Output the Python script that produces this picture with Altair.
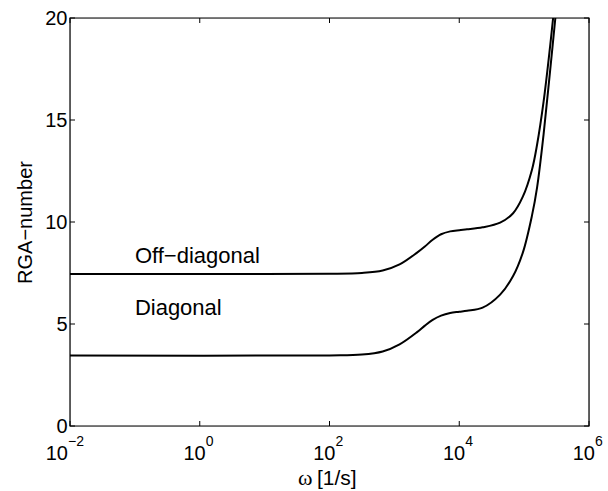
import altair as alt
import pandas as pd

# ---- data ----
off_log_w = [-2, 1, 2, 2.5, 2.82, 3.08, 3.35, 3.47, 3.59, 3.72, 3.86, 4.0, 4.12, 4.36, 4.63, 4.83, 4.98, 5.12, 5.2, 5.3, 5.4, 5.46]
off_rga = [7.45, 7.45, 7.46, 7.5, 7.62, 7.92, 8.5, 8.8, 9.13, 9.4, 9.54, 9.6, 9.64, 9.74, 9.97, 10.43, 11.24, 12.55, 13.8, 15.9, 18.6, 20.4]

diag_log_w = [-2, 2, 2.5, 2.82, 3.08, 3.35, 3.47, 3.59, 3.72, 3.86, 4.0, 4.12, 4.36, 4.63, 4.83, 4.98, 5.12, 5.2, 5.3, 5.4, 5.5]
diag_rga = [3.45, 3.46, 3.5, 3.65, 4.0, 4.6, 4.92, 5.2, 5.41, 5.54, 5.6, 5.65, 5.8, 6.44, 7.35, 8.5, 10.3, 11.7, 14.3, 17.4, 20.6]

x_tick_exponents = [-2, 0, 2, 4, 6]
y_ticks = [0, 5, 10, 15, 20]

label_texts = ["Off\u2212diagonal", "Diagonal"]
label_log_w = [-1.0, -1.0]
label_rga = [8.0, 5.45]

# ---- layout ----
W, H = 519, 408
FONT = "Liberation Sans"

curves = pd.DataFrame({
    "w": [10 ** e for e in off_log_w] + [10 ** e for e in diag_log_w],
    "rga": off_rga + diag_rga,
    "series": ["Off-diagonal"] * len(off_rga) + ["Diagonal"] * len(diag_rga),
})
xt = pd.DataFrame({
    "w": [10 ** e for e in x_tick_exponents],
    "e": x_tick_exponents,
    "exp": [str(e).replace("-", "\u2212") for e in x_tick_exponents],
})
yt = pd.DataFrame({"rga": y_ticks})
lab = pd.DataFrame({"w": [10 ** e for e in label_log_w], "rga": label_rga, "text": label_texts})

xscale = alt.Scale(type="log", domain=[1e-2, 1e6], nice=False)
yscale = alt.Scale(domain=[0, 20], nice=False, zero=False)
yaxis = alt.Axis(
    values=y_ticks, grid=False, domain=False, ticks=False,
    labelFont=FONT, labelFontSize=20, labelColor="black", labelPadding=3,
    title="RGA\u2212number", titleFont=FONT, titleFontSize=20,
    titleFontWeight="normal", titleColor="black", titlePadding=9,
)

def Y(field="rga:Q"):
    return alt.Y(field, scale=yscale, axis=yaxis)

def X(field="w:Q"):
    return alt.X(field, scale=xscale, axis=None)

lines = alt.Chart(curves).mark_line(
    color="black", strokeWidth=2, clip=True, interpolate="catmull-rom"
).encode(x=X(), y=Y(), detail="series:N")

tick_style = dict(color="black", strokeWidth=1)
ytick_left = alt.Chart(yt).mark_rule(**tick_style).encode(
    y=Y(), x=alt.value(0), x2=alt.value(5))
ytick_right = alt.Chart(yt).mark_rule(**tick_style).encode(
    y=Y(), x=alt.value(W - 5), x2=alt.value(W))
xtick_bottom = alt.Chart(xt).mark_rule(**tick_style).encode(
    x=X(), y=alt.value(H), y2=alt.value(H - 5))
xtick_top = alt.Chart(xt).mark_rule(**tick_style).encode(
    x=X(), y=alt.value(0), y2=alt.value(5))

frame = alt.Chart(yt).transform_filter("datum.rga == 0").mark_rect(
    fill=None, stroke="black", strokeWidth=1.2
).encode(x=alt.value(0), x2=alt.value(W), y=alt.value(0), y2=alt.value(H))

base_pos = alt.Chart(xt).transform_filter("datum.e != -2")
neg_pos = alt.Chart(xt).transform_filter("datum.e == -2")

ten_main = base_pos.mark_text(text="10", align="right", baseline="alphabetic",
                              font=FONT, fontSize=20, dx=6, color="black").encode(
    x=X(), y=alt.value(H + 34))
exp_main = base_pos.mark_text(align="left", baseline="alphabetic",
                              font=FONT, fontSize=14, dx=6, color="black").encode(
    x=X(), y=alt.value(H + 20), text="exp:N")
ten_neg = neg_pos.mark_text(text="10", align="right", baseline="alphabetic",
                            font=FONT, fontSize=20, dx=-2, color="black").encode(
    x=X(), y=alt.value(H + 34))
exp_neg = neg_pos.mark_text(align="left", baseline="alphabetic",
                            font=FONT, fontSize=14, dx=-2, color="black").encode(
    x=X(), y=alt.value(H + 20), text="exp:N")

xtitle_omega = alt.Chart(xt).transform_filter("datum.e == 0").mark_text(
    text="\u03c9", align="left", baseline="alphabetic", font="Liberation Serif",
    fontSize=22, color="black").encode(x=alt.value(228), y=alt.value(H + 59))
xtitle_rest = alt.Chart(xt).transform_filter("datum.e == 0").mark_text(
    text="[1/s]", align="left", baseline="alphabetic", font=FONT,
    fontSize=21, color="black").encode(x=alt.value(247), y=alt.value(H + 59))

labels = alt.Chart(lab).mark_text(align="left", baseline="alphabetic",
                                  font=FONT, fontSize=22, color="black").encode(
    x=X(), y=Y(), text="text:N")

chart = alt.layer(
    lines, ytick_left, ytick_right, xtick_bottom, xtick_top, frame,
    ten_main, exp_main, ten_neg, exp_neg, xtitle_omega, xtitle_rest, labels,
).properties(
    width=W, height=H,
    padding={"left": 70, "top": 18, "right": 19, "bottom": 65},
    autosize=alt.AutoSizeParams(type="none"),
    background="white",
).configure_view(strokeWidth=0).configure(font=FONT)

chart.save("out.html", embed_options={"renderer": "svg", "actions": False})
